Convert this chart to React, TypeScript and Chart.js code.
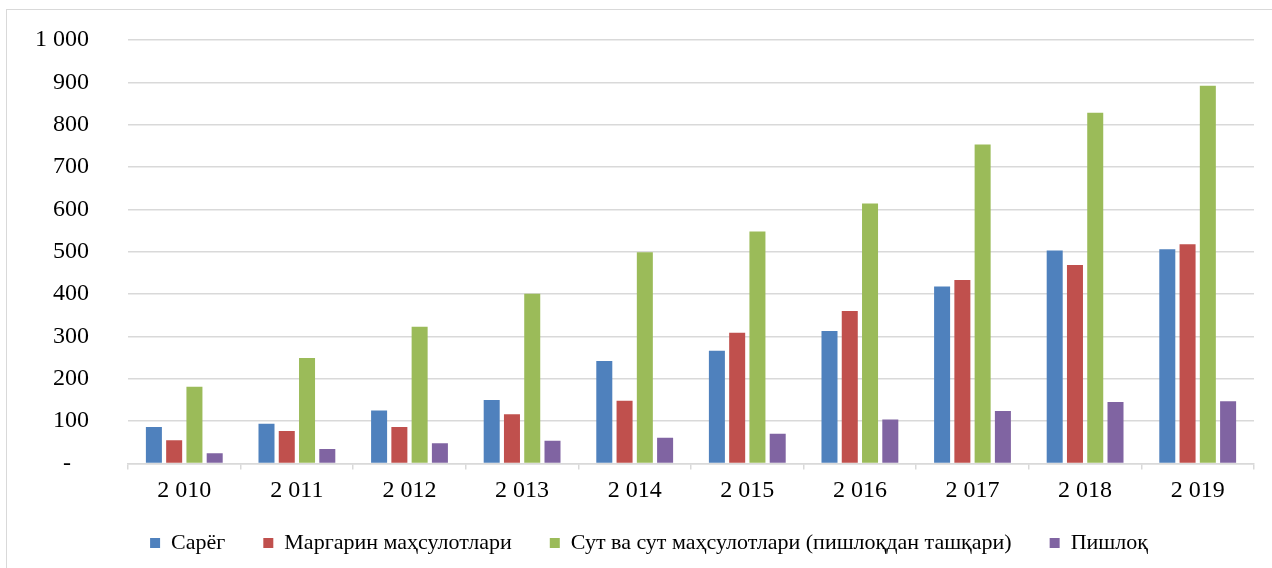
import React, { useEffect, useRef } from "react";
import { Chart, registerables } from "chart.js";

Chart.register(...registerables);

const categories = ["2 010", "2 011", "2 012", "2 013", "2 014", "2 015", "2 016", "2 017", "2 018", "2 019"];
const butter = [86, 94, 125, 150, 242, 266, 313, 418, 503, 506];
const margarine = [55, 77, 86, 116, 148, 309, 360, 433, 469, 518];
const dairy = [181, 249, 323, 401, 499, 548, 614, 753, 828, 892];
const cheese = [24, 34, 48, 54, 61, 70, 104, 124, 145, 147];
const seriesNames = ["Сарёг", "Маргарин маҳсулотлари", "Сут ва сут маҳсулотлари (пишлоқдан ташқари)", "Пишлоқ"];
const seriesColors = ["#4F81BD", "#C0504D", "#9BBB59", "#8064A2"];

const FONT = '"Liberation Serif", "Times New Roman", serif';

function formatTick(v: number): string {
  if (v === 0) return "-\u00a0\u00a0\u00a0";
  const s = String(Math.round(v));
  return s.replace(/\B(?=(\d{3})+(?!\d))/g, " ");
}

// nudges the legend to the spot it occupies in the reference
const legendNudge = {
  id: "legendNudge",
  afterLayout(chart: any) {
    const l = chart.legend;
    if (!l) return;
    l.left += 7;
    l.right += 7;
    l.top -= 13.5;
    l.bottom = chart.height;
  },
};

export default function App() {
  const ref = useRef<HTMLCanvasElement | null>(null);

  useEffect(() => {
    if (!ref.current) return;
    const values = [butter, margarine, dairy, cheese];
    const chart = new Chart(ref.current, {
      type: "bar",
      data: {
        labels: categories,
        datasets: values.map((d, i) => ({
          label: seriesNames[i],
          data: d,
          backgroundColor: seriesColors[i],
          borderWidth: 0,
          barPercentage: 0.79,
          categoryPercentage: 0.72,
        })),
      },
      plugins: [legendNudge],
      options: {
        animation: false,
        responsive: true,
        maintainAspectRatio: false,
        layout: { padding: { left: 30, right: 18, top: 40, bottom: 4.5 } },
        plugins: {
          tooltip: { enabled: false },
          legend: {
            position: "bottom",
            maxHeight: 56,
            labels: {
              boxWidth: 10,
              boxHeight: 10,
              padding: 38,
              color: "#000",
              font: { family: FONT, size: 22 },
            },
          },
        },
        scales: {
          x: {
            afterFit: (scale: any) => {
              scale.height = 44;
            },
            grid: {
              offset: true,
              drawOnChartArea: false,
              drawTicks: true,
              tickLength: 6,
              color: "#d9d9d9",
              lineWidth: 1.5,
            },
            border: { display: true, color: "#d9d9d9", width: 1.5 },
            ticks: {
              color: "#000",
              padding: 7,
              font: { family: FONT, size: 24 },
              maxRotation: 0,
            },
          },
          y: {
            min: 0,
            max: 1000,
            afterFit: (scale: any) => {
              scale.width = 98;
              scale.paddingTop = 0;
              scale.paddingBottom = 0;
            },
            grid: { color: "#d9d9d9", lineWidth: 1.5, drawTicks: false },
            border: { display: false },
            ticks: {
              stepSize: 100,
              padding: 39,
              color: "#000",
              font: { family: FONT, size: 24 },
              callback: (v: any) => formatTick(Number(v)),
            },
          },
        },
      },
    });
    return () => chart.destroy();
  }, []);

  return (
    <div style={{ position: "fixed", left: 0, top: 0, width: 1272, height: 568, overflow: "hidden", background: "#fff" }}>
      <div
        style={{
          position: "absolute",
          left: 6,
          top: 9,
          width: 1300,
          height: 600,
          border: "1.5px solid #d9d9d9",
        }}
      />
      <div style={{ position: "absolute", left: 0, top: 0, width: 1272, height: 568 }}>
        <canvas ref={ref} />
      </div>
    </div>
  );
}
